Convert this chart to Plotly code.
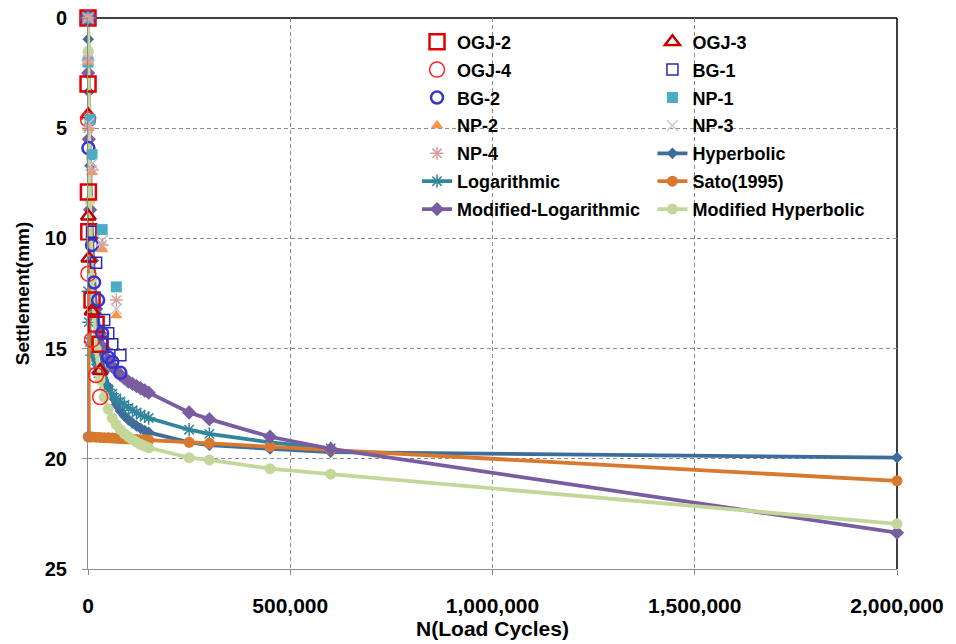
import plotly.graph_objects as go

# ---------------- data ----------------
N_model = [0, 500, 2000, 5000, 10000, 20000, 30000, 40000, 50000, 60000, 70000, 80000,
           90000, 100000, 110000, 120000, 130000, 140000, 150000, 250000, 300000,
           450000, 600000, 2000000]
hyperbolic = [0, 0.96, 3.35, 6.70, 10.04, 13.38, 15.05, 16.05, 16.72, 17.19, 17.55, 17.83,
              18.05, 18.23, 18.38, 18.51, 18.62, 18.72, 18.80, 19.25, 19.38,
              19.55, 19.70, 19.95]
sato = [0, 19.0, 19.0, 19.01, 19.01, 19.02, 19.03, 19.04, 19.05, 19.06, 19.07, 19.08,
        19.09, 19.10, 19.11, 19.12, 19.13, 19.14, 19.15, 19.25, 19.30,
        19.45, 19.60, 21.0]
mod_log = [0, 2.5, 5.5, 8.7, 11.0, 13.2, 14.3, 15.0, 15.5, 15.8, 16.0, 16.2,
           16.35, 16.5, 16.6, 16.7, 16.8, 16.9, 17.0, 17.9, 18.2,
           19.0, 19.55, 23.35]
mod_hyp = [0, 1.5, 4.4, 8.3, 11.8, 15.0, 16.4, 17.2, 17.75, 18.15, 18.45, 18.68,
           18.86, 19.0, 19.13, 19.24, 19.34, 19.42, 19.5, 19.95, 20.05,
           20.45, 20.7, 22.95]
N_log = [500, 2000, 5000, 10000, 20000, 30000, 40000, 50000, 60000, 70000, 80000,
         90000, 100000, 110000, 120000, 130000, 140000, 150000, 250000, 300000,
         450000, 600000]
logarithmic = [12.4, 13.8, 14.7, 15.3, 15.9, 16.3, 16.6, 16.85, 17.05, 17.25, 17.4,
               17.55, 17.7, 17.8, 17.9, 18.0, 18.08, 18.15, 18.68, 18.87,
               19.25, 19.53]

ogj2_N = [0, 100, 1000, 2000, 10000, 20000, 30000]
ogj2_S = [0, 3.0, 7.9, 9.7, 12.8, 13.9, 14.8]
ogj3_N = [0, 100, 1000, 2000, 10000, 30000]
ogj3_S = [0, 4.4, 9.0, 10.9, 13.3, 16.0]
ogj4_N = [0, 100, 1000, 10000, 20000, 30000]
ogj4_S = [0, 4.6, 11.6, 14.6, 16.2, 17.2]
bg1_N = [0, 10000, 20000, 40000, 50000, 60000, 80000]
bg1_S = [0, 9.7, 11.1, 13.7, 14.3, 14.8, 15.3]
bg2_N = [0, 1000, 10000, 15000, 25000, 35000, 50000, 60000, 80000]
bg2_S = [0, 5.9, 10.3, 12.0, 12.8, 14.3, 15.4, 15.6, 16.1]
np1_N = [0, 100, 5000, 10000, 35000, 70000]
np1_S = [0, 2.0, 4.6, 6.2, 9.6, 12.2]
np2_N = [0, 100, 1000, 10000, 35000, 70000]
np2_S = [0, 2.0, 5.0, 7.0, 10.5, 13.5]
np3_N = [0, 100, 1000, 10000, 35000, 70000]
np3_S = [0, 1.8, 4.8, 6.6, 10.1, 13.2]
np4_N = [0, 100, 1000, 10000, 35000, 70000]
np4_S = [0, 1.9, 5.0, 6.9, 10.3, 12.8]

x_ticks = [0, 500000, 1000000, 1500000, 2000000]
y_ticks = [0, 5, 10, 15, 20, 25]

FONT = "Liberation Sans, Arial, sans-serif"

fig = go.Figure()

def add_line(name, x, y, color, symbol, msize, legend, rank, mline=None):
    fig.add_trace(go.Scatter(
        x=x, y=y, name=name, mode="lines+markers", legend=legend, legendrank=rank,
        legendgroup=name, cliponaxis=False,
        line=dict(color=color, width=3.8),
        marker=dict(symbol=symbol, size=msize, color=color,
                    line=dict(color=mline or color, width=1.5 if mline else 0))))

def add_pts(name, x, y, color, symbol, msize, legend, rank, lw=1.5, fill=None):
    fig.add_trace(go.Scatter(
        x=x, y=y, name=name, mode="markers", legend=legend, legendrank=rank,
        legendgroup=name, cliponaxis=False,
        marker=dict(symbol=symbol, size=msize, color=fill or color,
                    line=dict(color=color, width=lw))))

# model curves (drawn first)
add_line("Hyperbolic", N_model, hyperbolic, "#3F6D9B", "diamond", 9, "legend2", 5)
add_line("Logarithmic", N_log, logarithmic, "#31869B", "asterisk-open", 11, "legend", 6, mline="#31869B")
add_line("Sato(1995)", N_model, sato, "#D7792F", "circle", 11, "legend2", 6)
add_line("Modified-Logarithmic", N_model, mod_log, "#7A5DA0", "diamond", 11, "legend", 7)
add_line("Modified Hyperbolic", N_model, mod_hyp, "#C4D79B", "circle", 11, "legend2", 7)

# measured
add_pts("OGJ-2", ogj2_N, ogj2_S, "#E00000", "square-open", 15, "legend", 1, lw=2.5)
add_pts("OGJ-3", ogj3_N, ogj3_S, "#C00000", "triangle-up-open", 13, "legend2", 1, lw=2.5)
add_pts("OGJ-4", ogj4_N, ogj4_S, "#FF2020", "circle-open", 15, "legend", 2, lw=1.5)
add_pts("BG-1", bg1_N, bg1_S, "#2A2AB0", "square-open", 11, "legend2", 2, lw=1.5)
add_pts("BG-2", bg2_N, bg2_S, "#3535D0", "circle-open", 12, "legend", 3, lw=2.5)
add_pts("NP-1", np1_N, np1_S, "#4BACC6", "square", 11, "legend2", 3, lw=0)
add_pts("NP-2", np2_N, np2_S, "#F79646", "triangle-up", 11, "legend", 4, lw=0)
add_pts("NP-3", np3_N, np3_S, "#C8C8C8", "x-thin-open", 11, "legend2", 4, lw=1.5)
add_pts("NP-4", np4_N, np4_S, "#D9A0A0", "asterisk-open", 11, "legend", 5, lw=1.5)

leg_common = dict(xanchor="left", yanchor="top", bgcolor="rgba(0,0,0,0)",
                  traceorder="grouped", tracegroupgap=1.5, itemwidth=30,
                  font=dict(family=FONT, size=18, color="black", weight="bold"))

fig.update_layout(
    width=948, height=636,
    margin=dict(l=80, r=59, t=10, b=75, autoexpand=False),
    plot_bgcolor="white", paper_bgcolor="white",
    font=dict(family=FONT, color="black"),
    legend=dict(x=0.4067, y=0.99, **leg_common),
    legend2=dict(x=0.6977, y=0.99, **leg_common),
    xaxis=dict(range=[0, 2000000], tickvals=x_ticks, tickformat=",", automargin=False,
               showgrid=True, gridcolor="#8C8C8C", griddash="4px,3px", gridwidth=1,
               showline=True, linecolor="#8C8C8C", linewidth=1, zeroline=False,
               ticks="outside", ticklen=5, tickcolor="#8C8C8C", ticklabelstandoff=13,
               ticklabeloverflow="allow",
               tickfont=dict(family=FONT, size=21, color="black", weight="bold"),
               title=dict(text="N(Load Cycles)", standoff=2,
                          font=dict(family=FONT, size=21, color="black", weight="bold"))),
    yaxis=dict(range=[25, 0], tickvals=y_ticks, automargin=False,
               showgrid=True, gridcolor="#8C8C8C", griddash="4px,3px", gridwidth=1,
               showline=True, linecolor="#8C8C8C", linewidth=1, zeroline=False,
               ticks="outside", ticklen=5, tickcolor="#8C8C8C", ticklabelstandoff=11,
               ticklabeloverflow="allow",
               tickfont=dict(family=FONT, size=20, color="black", weight="bold"),
               title=dict(text="Settlement(mm)", standoff=10,
                          font=dict(family=FONT, size=19, color="black", weight="bold"))),
    shapes=[
        dict(type="line", xref="paper", yref="paper", x0=0, x1=1, y0=1, y1=1,
             line=dict(color="black", width=1.5), layer="below"),
        dict(type="line", xref="paper", yref="paper", x0=1, x1=1, y0=0, y1=1,
             line=dict(color="black", width=1.5), layer="below"),
    ],
)

fig.write_html("out.html")
